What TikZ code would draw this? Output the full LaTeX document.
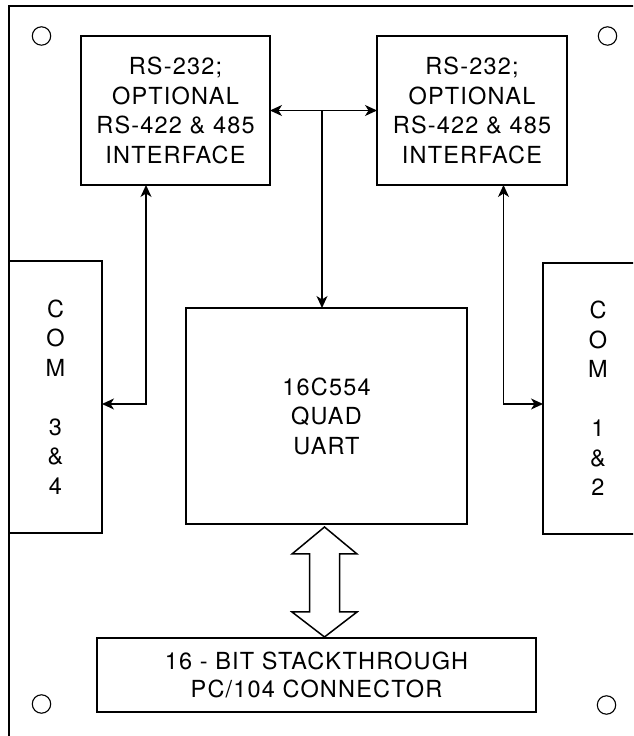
\documentclass[tikz,border=0pt]{standalone}
\usepackage{fontspec}
\usepackage{tikz}
\usetikzlibrary{arrows.meta,calc}
\newfontfamily\boardfont[LetterSpace=5]{TeX Gyre Heros}

\begin{document}
\begin{tikzpicture}[x=1pt,y=1pt,
  >={Stealth[length=12pt,width=11pt,inset=3.5pt]},
  block/.style={draw=drawColor,line width=2.6pt,rectangle,inner sep=0pt,outer sep=0pt,
    align=center,text=drawColor,font=\boardfont\fontsize{23.5}{29.5}\selectfont},
  link/.style={draw=drawColor,line width=1.3pt},
  hole/.style={draw=drawColor,line width=1.1pt},
  hollow/.style={draw=drawColor,line width=1.5pt,line join=miter,fill=white}]
\definecolor{fillColor}{RGB}{255,255,255}
\definecolor{drawColor}{RGB}{0,0,0}
\path[use as bounding box,fill=fillColor] (0,0) rectangle (633,736);
\begin{scope}
\path[clip] (0,0) rectangle (633,736);

% board outline and mounting holes
\path[draw=drawColor,line width=2.5pt] (9,-20) rectangle (700,730);
\path[hole] ( 41.5,700) circle (9.2);
\path[hole] (607.5,700) circle (9.2);
\path[hole] ( 41.5, 32) circle (9.2);
\path[hole] (606.5, 31) circle (9.2);

% blocks
\node[block,minimum width=189,minimum height=149] (ifL) at (175.5,625.5)
  {RS-232;\\OPTIONAL\\RS-422 \& 485\\INTERFACE};
\node[block,minimum width=190,minimum height=149] (ifR) at (472,625.5)
  {RS-232;\\OPTIONAL\\RS-422 \& 485\\INTERFACE};
\node[block,minimum width=281,minimum height=216] (uart) at (326.5,320)
  {16C554\\QUAD\\UART};
\node[block,minimum width=93,minimum height=272] (com34) at (55.5,339)
  {C\\O\\M\\[29.5pt]3\\\&\\4};
\node[block,minimum width=110,minimum height=271] (com12) at (598,337.5)
  {C\\O\\M\\[29.5pt]1\\\&\\2};
\node[block,minimum width=439,minimum height=74,font=\boardfont\fontsize{23.5}{28}\selectfont] (conn) at (316.5,61)
  {16 - BIT STACKTHROUGH\\PC/104 CONNECTOR};

% signal lines
\coordinate (tap) at ($(ifL.east)!0.5!(ifR.west)$);
\path[link,<->] (ifL.east) -- (ifR.west);
\path[link,->] ([xshift=-1.5pt]tap) -- ([xshift=-1.5pt]tap |- uart.north);
\path[link,<->] ([xshift=-29.5pt]ifL.south) |- ([yshift=-7pt]com34.east);
\path[link,<->] ([xshift=31.5pt]ifR.south) |- ([yshift=-5.5pt]com12.west);

% bus arrow
\coordinate (busTop) at ([xshift=-2pt,yshift=-3pt]uart.south);
\coordinate (busBot) at ([xshift=8pt,yshift=1pt]conn.north);
\path[hollow] (busTop) -- ++(32.5,-27) -- ++(-17.5,0) -- ++(0,-58) -- ++(17.5,0) --
	(busBot) -- ++(-32.5,25) -- ++(17.5,0) -- ++(0,58) -- ++(-17.5,0) -- cycle;
\end{scope}
\end{tikzpicture}
\end{document}
